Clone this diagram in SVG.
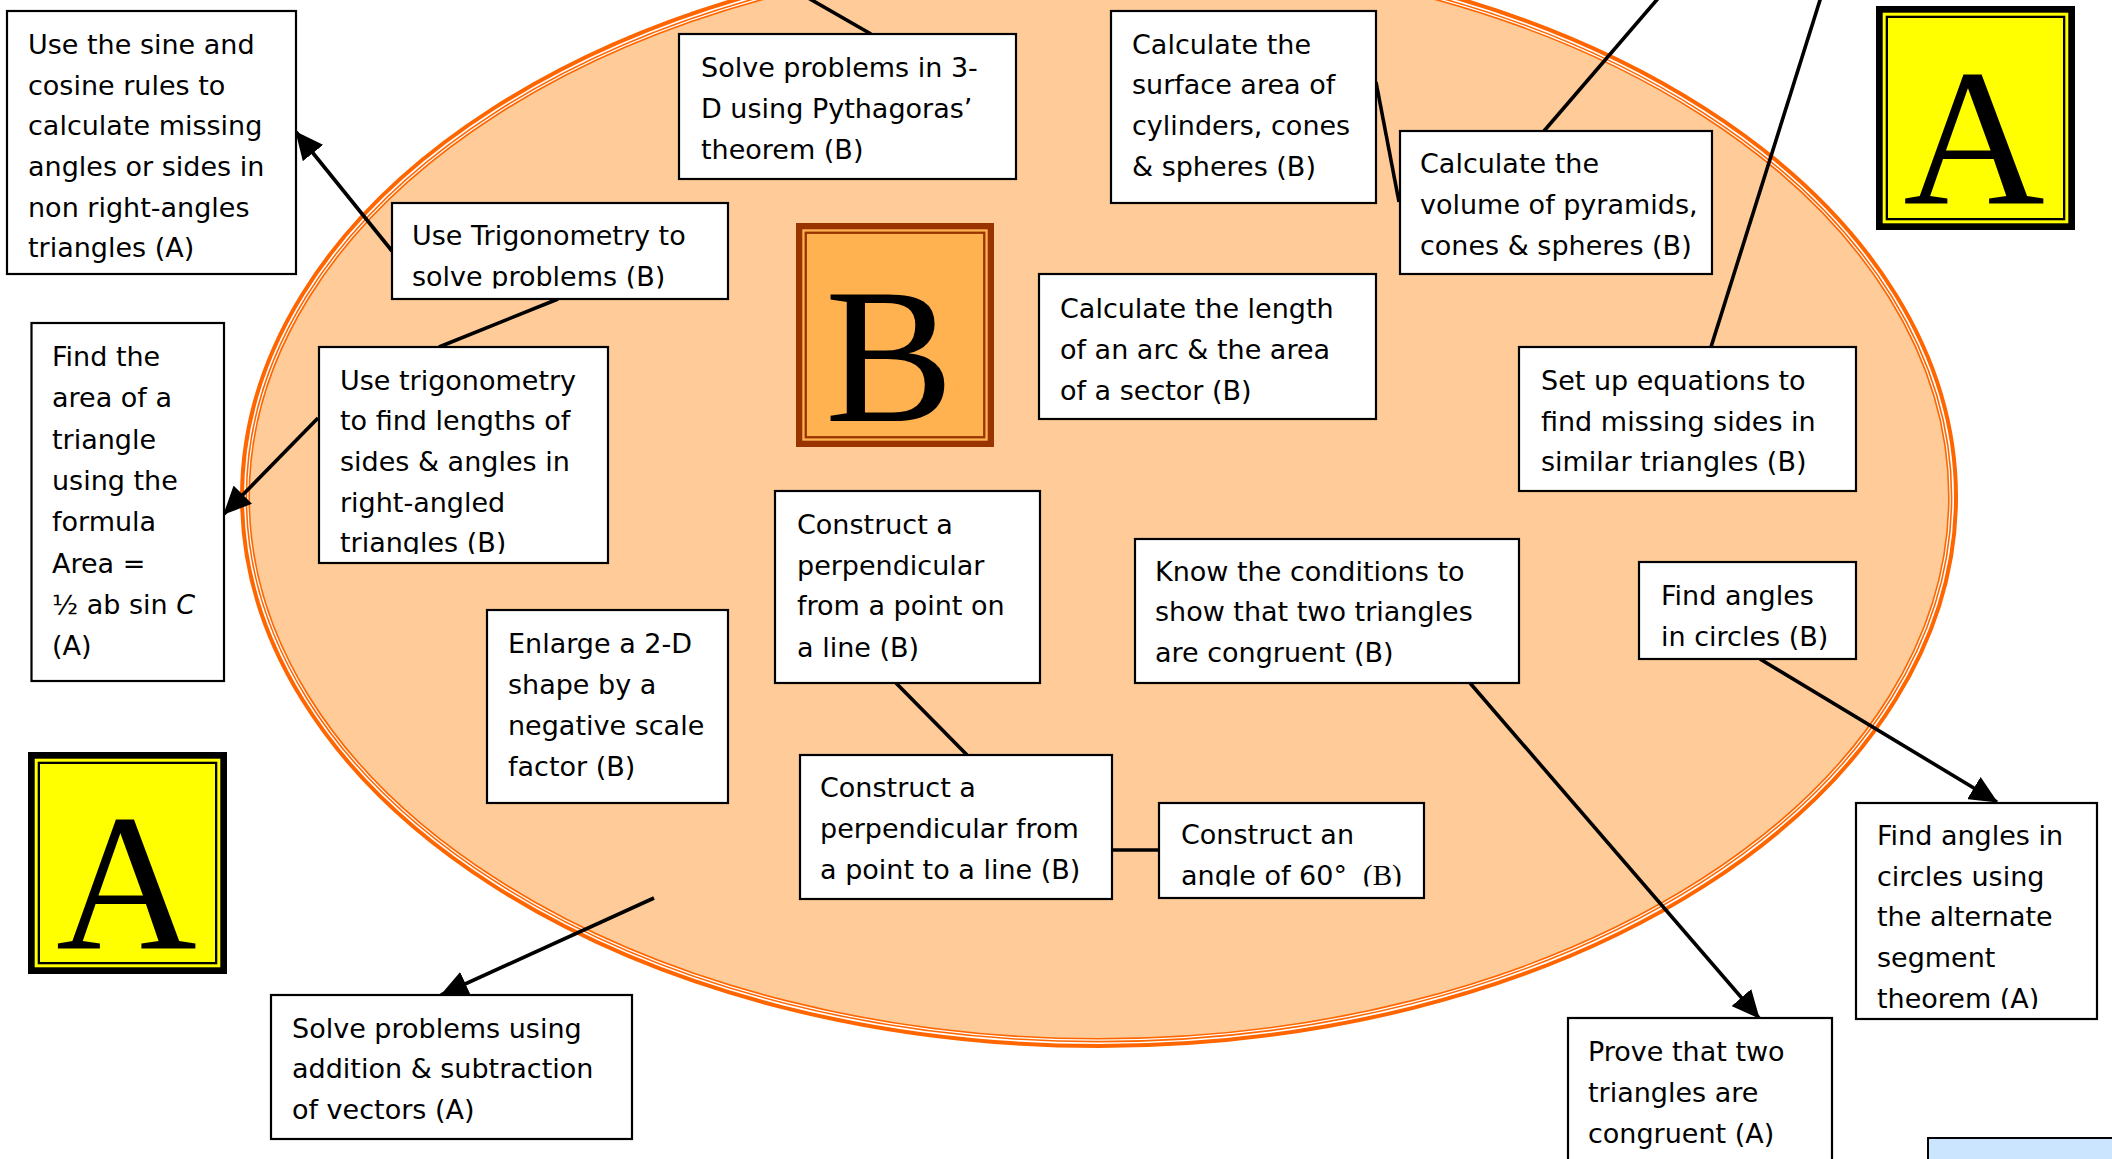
<svg xmlns="http://www.w3.org/2000/svg" width="2112" height="1159" viewBox="0 0 2112 1159">
<style>
.box{fill:#fff;stroke:#000;stroke-width:2.2}
.t{font-family:"DejaVu Sans",sans-serif;font-size:27px;fill:#000}
.con{stroke:#000;stroke-width:3.6;fill:none}
.arr{marker-end:url(#ah)}
.big{font-family:"Liberation Serif","Times New Roman",serif;fill:#000}
</style>
<defs>
<marker id="ah" markerUnits="userSpaceOnUse" markerWidth="28" markerHeight="26" refX="27" refY="13" orient="auto" viewBox="0 0 28 26">
<path d="M0,0 L28,13 L0,26 z" fill="#000"/>
</marker>
<clipPath id="c2"><rect x="392" y="203" width="336" height="85.5"/></clipPath>
<clipPath id="c3"><rect x="319" y="347" width="289" height="207"/></clipPath>
<clipPath id="c15"><rect x="1159" y="803" width="265" height="83.5"/></clipPath>
<clipPath id="c16"><rect x="1856" y="803" width="241" height="206"/></clipPath>
</defs>
<rect width="2112" height="1159" fill="#fff"/>

<g id="ellipse">
<ellipse cx="1099" cy="497" rx="854" ry="546" fill="#FFCC99" stroke="#FF6600" stroke-width="10"/>
<ellipse cx="1099" cy="497" rx="854.2" ry="546.2" fill="none" stroke="#fff" stroke-width="1.6"/>
<ellipse cx="1099" cy="497" rx="851.2" ry="543.2" fill="none" stroke="#fff" stroke-width="1.2"/>
</g>

<g id="badge-B">
<rect x="796" y="223" width="198" height="224" fill="#993300"/>
<rect x="802.3" y="229.3" width="185.4" height="211.4" fill="#FFB24F"/>
<rect x="805.75" y="232.75" width="178.5" height="204.5" fill="none" stroke="#993300" stroke-width="2.3"/>
<text class="big" x="825" y="421" font-size="193">B</text>
</g>

<g id="badge-A-top">
<rect x="1876" y="6" width="199" height="224" fill="#000"/>
<rect x="1882.7" y="12.7" width="185.6" height="210.6" fill="#FFFF00"/>
<rect x="1886.85" y="16.85" width="177.3" height="202.3" fill="none" stroke="#000" stroke-width="2.3"/>
<text class="big" x="1974" y="204" font-size="196" text-anchor="middle">A</text>
</g>

<g id="badge-A-bottom">
<rect x="28" y="752" width="199" height="222" fill="#000"/>
<rect x="34.7" y="758.7" width="185.6" height="208.6" fill="#FFFF00"/>
<rect x="38.85" y="762.85" width="177.3" height="200.3" fill="none" stroke="#000" stroke-width="2.3"/>
<text class="big" x="126.5" y="949" font-size="195" text-anchor="middle">A</text>
</g>

<g id="connectors">
<line class="con arr" x1="392" y1="251" x2="296" y2="132"/>
<line class="con" x1="558" y1="299" x2="439" y2="347"/>
<line class="con arr" x1="318" y1="418" x2="224" y2="514"/>
<line class="con" x1="803" y1="-5" x2="871" y2="34"/>
<line class="con" x1="1376" y1="82" x2="1399" y2="202"/>
<line class="con" x1="1661" y1="-5" x2="1544" y2="131"/>
<line class="con" x1="1821.6" y1="-5" x2="1711" y2="347"/>
<line class="con" x1="896" y1="683" x2="967" y2="755"/>
<line class="con" x1="1112" y1="850" x2="1159" y2="850"/>
<line class="con arr" x1="654" y1="898" x2="441" y2="995"/>
<line class="con arr" x1="1470" y1="683" x2="1759" y2="1018"/>
<line class="con arr" x1="1760" y1="659" x2="1997" y2="802"/>
</g>

<g id="n-sine-cosine">
<rect class="box" x="7" y="11" width="289" height="263"/>
<text class="t"><tspan x="28" y="54">Use the sine and</tspan><tspan x="28" y="94.5">cosine rules to</tspan><tspan x="28" y="135">calculate missing</tspan><tspan x="28" y="176">angles or sides in</tspan><tspan x="28" y="216.5">non right-angles</tspan><tspan x="28" y="257">triangles (A)</tspan></text>
</g>

<g id="n-trig-solve">
<rect class="box" x="392" y="203" width="336" height="96"/>
<text class="t" clip-path="url(#c2)"><tspan x="412" y="245">Use Trigonometry to</tspan><tspan x="412" y="285.5">solve problems (B)</tspan></text>
</g>

<g id="n-trig-lengths">
<rect class="box" x="319" y="347" width="289" height="216"/>
<text class="t" clip-path="url(#c3)"><tspan x="340" y="390">Use trigonometry</tspan><tspan x="340" y="430">to find lengths of</tspan><tspan x="340" y="471">sides &amp; angles in</tspan><tspan x="340" y="511.5">right-angled</tspan><tspan x="340" y="552">triangles (B)</tspan></text>
</g>

<g id="n-area-triangle">
<rect class="box" x="31.5" y="323" width="192.5" height="358"/>
<text class="t"><tspan x="52" y="366">Find the</tspan><tspan x="52" y="407">area of a</tspan><tspan x="52" y="448.5">triangle</tspan><tspan x="52" y="490">using the</tspan><tspan x="52" y="531">formula</tspan><tspan x="52" y="572.5">Area =</tspan><tspan x="52" y="614">½ ab sin <tspan font-style="italic">C</tspan></tspan><tspan x="52" y="655">(A)</tspan></text>
</g>

<g id="n-pythagoras">
<rect class="box" x="679" y="34" width="337" height="145"/>
<text class="t"><tspan x="701" y="76.5">Solve problems in 3-</tspan><tspan x="701" y="117.5">D using Pythagoras’</tspan><tspan x="701" y="158.5">theorem (B)</tspan></text>
</g>

<g id="n-surface-area">
<rect class="box" x="1111" y="11" width="265" height="192"/>
<text class="t"><tspan x="1132" y="54">Calculate the</tspan><tspan x="1132" y="94">surface area of</tspan><tspan x="1132" y="135">cylinders, cones</tspan><tspan x="1132" y="176">&amp; spheres (B)</tspan></text>
</g>

<g id="n-volume">
<rect class="box" x="1400" y="131" width="312" height="143"/>
<text class="t"><tspan x="1420" y="173">Calculate the</tspan><tspan x="1420" y="214">volume of pyramids,</tspan><tspan x="1420" y="254.5">cones &amp; spheres (B)</tspan></text>
</g>

<g id="n-arc-sector">
<rect class="box" x="1039" y="274" width="337" height="145"/>
<text class="t"><tspan x="1060" y="318">Calculate the length</tspan><tspan x="1060" y="359">of an arc &amp; the area</tspan><tspan x="1060" y="400">of a sector (B)</tspan></text>
</g>

<g id="n-similar">
<rect class="box" x="1519" y="347" width="337" height="144"/>
<text class="t"><tspan x="1541" y="390">Set up equations to</tspan><tspan x="1541" y="430.5">find missing sides in</tspan><tspan x="1541" y="471">similar triangles (B)</tspan></text>
</g>

<g id="n-perp-on-line">
<rect class="box" x="775" y="491" width="265" height="192"/>
<text class="t"><tspan x="797" y="534">Construct a</tspan><tspan x="797" y="574.5">perpendicular</tspan><tspan x="797" y="615">from a point on</tspan><tspan x="797" y="657">a line (B)</tspan></text>
</g>

<g id="n-congruent-conditions">
<rect class="box" x="1135" y="539" width="384" height="144"/>
<text class="t"><tspan x="1155" y="581">Know the conditions to</tspan><tspan x="1155" y="621">show that two triangles</tspan><tspan x="1155" y="662">are congruent (B)</tspan></text>
</g>

<g id="n-angles-circles">
<rect class="box" x="1639" y="562" width="217" height="97"/>
<text class="t"><tspan x="1661" y="605">Find angles</tspan><tspan x="1661" y="646">in circles (B)</tspan></text>
</g>

<g id="n-enlarge">
<rect class="box" x="487" y="610" width="241" height="193"/>
<text class="t"><tspan x="508" y="652.5">Enlarge a 2-D</tspan><tspan x="508" y="693.5">shape by a</tspan><tspan x="508" y="734.5">negative scale</tspan><tspan x="508" y="776">factor (B)</tspan></text>
</g>

<g id="n-perp-to-line">
<rect class="box" x="800" y="755" width="312" height="144"/>
<text class="t"><tspan x="820" y="796.5">Construct a</tspan><tspan x="820" y="838">perpendicular from</tspan><tspan x="820" y="879">a point to a line (B)</tspan></text>
</g>

<g id="n-angle-60">
<rect class="box" x="1159" y="803" width="265" height="95"/>
<text class="t" clip-path="url(#c15)"><tspan x="1181" y="884.5" dy="-40.5">Construct an</tspan><tspan x="1181" y="884.5">angle of 60°</tspan><tspan dx="16" font-family="Liberation Serif, serif" font-size="29">(B)</tspan></text>
</g>

<g id="n-alternate-segment">
<rect class="box" x="1856" y="803" width="241" height="216"/>
<text class="t" clip-path="url(#c16)"><tspan x="1877" y="845">Find angles in</tspan><tspan x="1877" y="885.5">circles using</tspan><tspan x="1877" y="926">the alternate</tspan><tspan x="1877" y="967">segment</tspan><tspan x="1877" y="1007.5">theorem (A)</tspan></text>
</g>

<g id="n-vectors">
<rect class="box" x="271" y="995" width="361" height="144"/>
<text class="t"><tspan x="292" y="1037.5">Solve problems using</tspan><tspan x="292" y="1078">addition &amp; subtraction</tspan><tspan x="292" y="1118.5">of vectors (A)</tspan></text>
</g>

<g id="n-prove-congruent">
<rect class="box" x="1568" y="1018" width="264" height="160"/>
<text class="t"><tspan x="1588" y="1061">Prove that two</tspan><tspan x="1588" y="1102">triangles are</tspan><tspan x="1588" y="1142.5">congruent (A)</tspan></text>
</g>

<g id="n-blue">
<rect x="1928" y="1138" width="200" height="40" fill="#CCE5FF" stroke="#000" stroke-width="2"/>
</g>
</svg>
